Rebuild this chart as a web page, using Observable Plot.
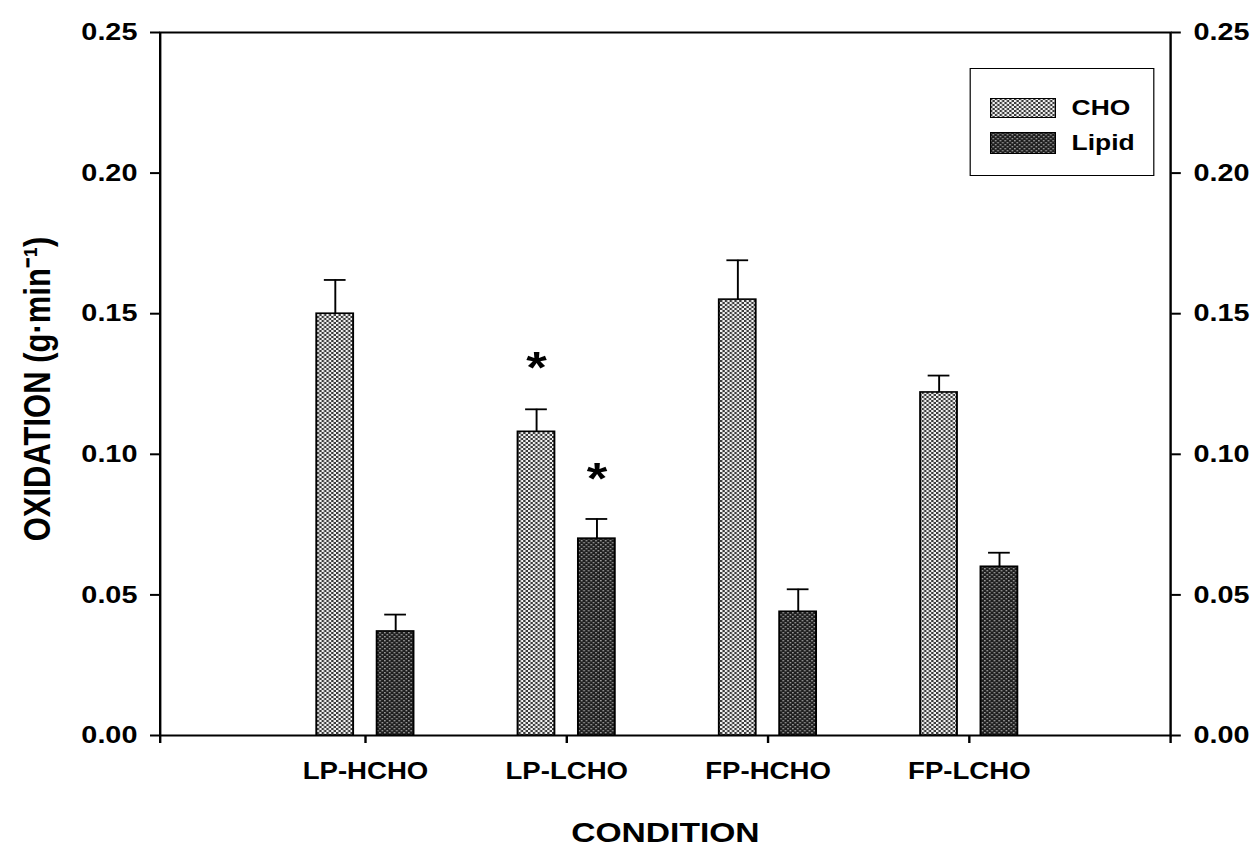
<!DOCTYPE html>
<html>
<head>
<meta charset="utf-8">
<script src="https://cdn.jsdelivr.net/npm/d3@7"></script>
<script src="https://cdn.jsdelivr.net/npm/@observablehq/plot@0.6"></script>
<style>
  html, body { margin: 0; padding: 0; background: #fff; overflow: hidden; }
  #wrap { position: relative; width: 1049px; height: 849px; transform: scaleX(1.2); transform-origin: 0 0;
          font-family: "Liberation Sans", Arial, Helvetica, sans-serif; font-weight: bold; }
  #legend { position: absolute; left: 808px; top: 68px; width: 152px; height: 106px; border: 1.6px solid #000; background: #fff; }
  .row { position: absolute; left: 16px; display: flex; align-items: center; }
  .lab { margin-left: 13px; font-size: 22px; color: #000; }
</style>
</head>
<body>
<svg width="0" height="0" style="position:absolute">
  <defs>
    <pattern id="cho" patternUnits="userSpaceOnUse" width="4" height="4">
      <rect width="4" height="4" fill="#f2f2f2"/>
      <rect x="0" y="0" width="2" height="2" fill="#3a3a3a"/>
      <rect x="2" y="2" width="2" height="2" fill="#3a3a3a"/>
    </pattern>
    <pattern id="lipid" patternUnits="userSpaceOnUse" width="4" height="4">
      <rect width="4" height="4" fill="#1e1e1e"/>
      <rect x="0" y="0" width="1.4" height="1.4" fill="#9a9a9a"/>
      <rect x="2" y="2" width="1.4" height="1.4" fill="#9a9a9a"/>
    </pattern>
  </defs>
</svg>
<div id="wrap">
  <div id="chart"></div>
  <div id="legend">
    <div class="row" style="top:26px;"><svg width="55" height="20"><rect x="0.5" y="0.5" width="54" height="19" fill="url(#cho)" stroke="#000"/></svg><span class="lab">CHO</span></div>
    <div class="row" style="top:61px;"><svg width="55" height="22"><rect x="0.5" y="0.5" width="54" height="21" fill="url(#lipid)" stroke="#000"/></svg><span class="lab">Lipid</span></div>
  </div>
</div>
<script>
// ---- data ----
const conditions = ["LP-HCHO", "LP-LCHO", "FP-HCHO", "FP-LCHO"];
const choMean    = [0.150, 0.108, 0.155, 0.122];
const choUpper   = [0.162, 0.116, 0.169, 0.128];
const lipidMean  = [0.037, 0.070, 0.044, 0.060];
const lipidUpper = [0.043, 0.077, 0.052, 0.065];
const choStar    = [null, 0.134, null, null];
const lipidStar  = [null, 0.0945, null, null];
const yTicks     = [0, 0.05, 0.10, 0.15, 0.20, 0.25];
const xDomain    = [-0.02, 5];

// ---- build table ----
const series = [
  {name: "CHO", mean: choMean, upper: choUpper, star: choStar, offset: -0.15, fill: "url(#cho)"},
  {name: "Lipid", mean: lipidMean, upper: lipidUpper, star: lipidStar, offset: 0.15, fill: "url(#lipid)"}
];
const rows = [];
series.forEach(s => conditions.forEach((c, i) => {
  rows.push({condition: c, series: s.name, pos: i + 1 + s.offset, mean: s.mean[i], upper: s.upper[i], star: s.star[i], fill: s.fill});
}));
const xTicks = [xDomain[0], ...conditions.map((c, i) => i + 1), xDomain[1]];
const halfBar = 0.0915, halfCap = 0.054;
const font = "'Liberation Sans', Arial, Helvetica, sans-serif";

const chart = Plot.plot({
  width: 1049, height: 849,
  marginLeft: 133, marginRight: 74, marginTop: 32, marginBottom: 114,
  style: {fontFamily: font, fontWeight: "bold", color: "#000", background: "transparent"},
  x: {domain: xDomain, axis: null},
  y: {domain: [0, 0.25], axis: null},
  marks: [
    Plot.axisY({anchor: "left", ticks: yTicks, tickFormat: d => d.toFixed(2), tickSize: 8, tickPadding: 11, fontSize: 24, label: null, strokeWidth: 2}),
    Plot.axisY({anchor: "right", ticks: yTicks, tickFormat: d => d.toFixed(2), tickSize: 8, tickPadding: 11, fontSize: 24, label: null, strokeWidth: 2}),
    Plot.axisX({ticks: xTicks, tickFormat: d => Number.isInteger(d) ? (conditions[d - 1] ?? "") : "", tickSize: 8, tickPadding: 19, fontSize: 23, label: null, strokeWidth: 2}),
    Plot.frame({stroke: "#000", strokeWidth: 2}),
    Plot.ruleX(rows, {x: "pos", y1: "mean", y2: "upper", stroke: "#000", strokeWidth: 1.6}),
    Plot.ruleY(rows, {y: "upper", x1: d => d.pos - halfCap, x2: d => d.pos + halfCap, stroke: "#000", strokeWidth: 1.8}),
    Plot.rectY(rows, {x1: d => d.pos - halfBar, x2: d => d.pos + halfBar, y1: 0, y2: "mean", fill: d => d.fill, stroke: "#000", strokeWidth: 1.6}),
    Plot.text(rows.filter(d => d.star != null), {x: "pos", y: "star", text: () => "*", fontSize: 44, fontWeight: "bold", dy: 10, fill: "#000"}),
    Plot.text(["OXIDATION (g·min⁻¹)"], {frameAnchor: "left", rotate: -90, dx: -102, dy: 5, fontSize: 31, fontWeight: "bold", fill: "#000", lineAnchor: "middle", textAnchor: "middle"}),
    Plot.text(["CONDITION"], {frameAnchor: "bottom", dy: 98, fontSize: 28, fontWeight: "bold", fill: "#000", lineAnchor: "middle", textAnchor: "middle"})
  ]
});
document.getElementById("chart").appendChild(chart);
</script>
</body>
</html>
